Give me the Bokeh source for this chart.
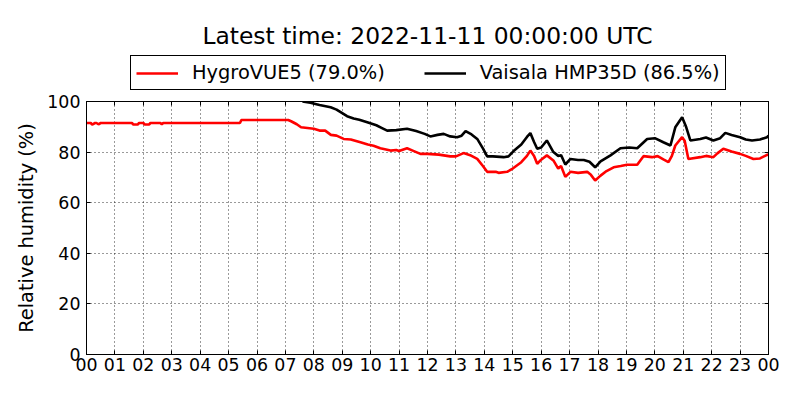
from bokeh.plotting import figure
from bokeh.layouts import column
from bokeh.models import (Range1d, FixedTicker, LinearAxis, Legend, LegendItem, Label)
from bokeh.embed import file_html
from bokeh.resources import INLINE

title_text = "Latest time: 2022-11-11 00:00:00 UTC"
red_name = "HygroVUE5 (79.0%)"
black_name = "Vaisala HMP35D (86.5%)"
y_label = "Relative humidity (%)"
x_ticks = list(range(0, 25))
x_tick_labels = ["00", "01", "02", "03", "04", "05", "06", "07", "08", "09", "10", "11",
                 "12", "13", "14", "15", "16", "17", "18", "19", "20", "21", "22", "23", "00"]
y_ticks = [0, 20, 40, 60, 80, 100]

red_h = [0.0, 0.15, 0.2, 0.3, 0.35, 0.42, 0.5, 1.6, 1.65, 1.8, 1.85, 2.0, 2.05, 2.2, 2.25,
         2.6, 2.65, 2.7, 5.4, 5.45, 7.1, 7.2, 7.4, 7.55, 8.0, 8.2, 8.4, 8.6, 8.8, 9.05, 9.3,
         9.64, 9.9, 10.1, 10.34, 10.7, 10.9, 11.0, 11.28, 11.5, 11.75, 12.0, 12.4, 12.8, 13.0,
         13.27, 13.5, 13.75, 13.95, 14.1, 14.4, 14.5, 14.8, 15.0, 15.3, 15.5, 15.62, 15.75,
         15.86, 16.0, 16.2, 16.43, 16.6, 16.7, 16.85, 17.03, 17.3, 17.62, 17.75, 17.9, 18.09,
         18.3, 18.55, 18.8, 19.02, 19.38, 19.6, 19.9, 20.1, 20.3, 20.48, 20.6, 20.72, 20.96,
         21.05, 21.18, 21.6, 21.8, 22.06, 22.2, 22.41, 22.7, 23.0, 23.2, 23.47, 23.7, 23.95, 24.0]
red_v = [91.5, 91.5, 90.9, 91.5, 91.5, 91.0, 91.5, 91.5, 90.9, 90.9, 91.5, 91.5, 90.9, 90.9, 91.5,
         91.5, 91.0, 91.5, 91.5, 92.7, 92.7, 92.2, 91.0, 89.8, 89.2, 88.5, 88.5, 86.8, 86.5, 85.2, 85.0,
         83.9, 83.0, 82.5, 81.5, 80.6, 80.8, 80.4, 81.5, 80.5, 79.3, 79.3, 79.0, 78.3, 78.3,
         79.6, 78.8, 77.3, 74.5, 72.2, 72.2, 71.8, 72.2, 73.5, 76.0, 78.5, 80.6, 78.5,
         75.4, 77.0, 78.7, 76.7, 73.5, 74.5, 70.2, 72.2, 71.8, 72.2, 71.0, 68.8, 70.7,
         72.5, 74.0, 74.5, 75.0, 75.0, 78.4, 78.0, 78.4, 77.1, 76.0, 78.5, 82.6, 85.9,
         84.5, 77.3, 78.0, 78.5, 78.0, 79.5, 81.3, 80.2, 79.3, 78.5, 77.3, 77.5, 78.9, 79.0]

black_h = [7.6, 7.88, 8.2, 8.59, 8.8, 9.17, 9.4, 9.6, 9.88, 10.2, 10.4, 10.58, 10.9, 11.28, 11.6,
           11.9, 12.1, 12.35, 12.57, 12.8, 13.04, 13.2, 13.34, 13.55, 13.75, 13.95, 14.1, 14.3,
           14.68, 14.85, 15.03, 15.3, 15.5, 15.62, 15.75, 15.86, 16.0, 16.2, 16.43, 16.6, 16.7,
           16.85, 17.03, 17.3, 17.5, 17.7, 17.9, 18.09, 18.44, 18.79, 19.1, 19.38, 19.73, 20.0,
           20.3, 20.55, 20.72, 20.96, 21.1, 21.25, 21.6, 21.8, 22.06, 22.3, 22.48, 22.7, 23.0,
           23.2, 23.42, 23.7, 23.95, 24.0]
black_v = [100.0, 99.5, 98.6, 97.7, 96.8, 94.2, 93.3, 92.8, 91.8, 90.6, 89.5, 88.5, 88.7, 89.2, 88.3,
           87.2, 86.2, 86.8, 87.2, 86.2, 85.9, 86.5, 88.3, 87.0, 85.2, 81.5, 78.3, 78.3,
           78.0, 78.3, 80.4, 83.0, 86.0, 87.5, 84.0, 81.3, 81.8, 84.6, 80.0, 78.5, 78.8,
           75.1, 77.3, 76.9, 76.9, 76.2, 74.0, 76.3, 78.7, 81.5, 81.8, 81.5, 85.2, 85.5,
           83.9, 82.6, 89.8, 93.8, 90.0, 84.6, 85.2, 85.8, 84.6, 85.5, 87.6, 86.8, 85.9,
           85.0, 84.6, 85.0, 85.9, 86.5]

FONT = "DejaVu Sans"
FS = "17.4px"
LAB_FS = "19.4px"
LW = 2.6
TOP_H = 93

# ---------- header figure: title + legend (frame aligned with main frame) ----------
head = figure(width=800, height=TOP_H, output_backend="svg", toolbar_location=None,
              x_range=Range1d(0, 1), y_range=Range1d(0, 1),
              x_axis_type=None, y_axis_type=None,
              min_border=0, min_border_left=0, min_border_right=0,
              min_border_top=0, min_border_bottom=0)
head.outline_line_color = None
head.xgrid.visible = False
head.ygrid.visible = False
head.background_fill_color = "white"
head.border_fill_color = "white"

# legend proxies: same series, but out of this header's view range
lr1 = head.line(red_h, red_v, line_color="red", line_width=LW)
lr2 = head.line(black_h, black_v, line_color="black", line_width=LW)

legend = Legend(items=[LegendItem(label=red_name, renderers=[lr1]),
                       LegendItem(label=black_name, renderers=[lr2])],
                orientation="horizontal", location=(44, 3), margin=0,
                padding=5, spacing=39, label_standoff=14, glyph_width=42,
                glyph_height=20, label_height=20,
                label_text_font=FONT, label_text_font_size=LAB_FS, label_text_color="black",
                border_line_color="black", border_line_width=1, border_line_alpha=1.0,
                background_fill_color="white", background_fill_alpha=1.0)
head.add_layout(legend, "center")

title = Label(x=341, y=TOP_H - 35, x_units="screen", y_units="screen", text=title_text,
              text_font=FONT, text_font_size="23.4px", text_align="center",
              text_baseline="middle", text_color="black")
head.add_layout(title)

# ---------- main figure ----------
p = figure(width=800, height=400 - TOP_H, output_backend="svg", toolbar_location=None,
           x_range=Range1d(0, 24), y_range=Range1d(0, 100),
           min_border_left=86, min_border_right=32, min_border_top=101 - TOP_H,
           min_border_bottom=46)
p.outline_line_color = "black"
p.outline_line_width = 1
p.background_fill_color = "white"
p.border_fill_color = "white"

p.line(red_h, red_v, line_color="red", line_width=LW)
p.line(black_h, black_v, line_color="black", line_width=LW)

def style_axis(ax, labels=True):
    ax.major_tick_in = 4
    ax.major_tick_out = 0
    ax.minor_tick_in = 0
    ax.minor_tick_out = 0
    ax.axis_line_color = "black"
    ax.major_tick_line_color = "black"
    ax.major_label_text_font = FONT
    ax.major_label_text_font_size = FS
    ax.major_label_text_color = "black" if labels else None
    ax.axis_label_text_font = FONT
    ax.axis_label_text_color = "black"

xa = p.xaxis[0]
xa.ticker = FixedTicker(ticks=x_ticks)
xa.major_label_overrides = {t: l for t, l in zip(x_ticks, x_tick_labels)}
xa.major_label_standoff = 3
style_axis(xa)

ya = p.yaxis[0]
ya.ticker = FixedTicker(ticks=y_ticks)
ya.major_label_standoff = 6
ya.axis_label = y_label
ya.axis_label_text_font_size = LAB_FS
ya.axis_label_text_font_style = "normal"
ya.axis_label_standoff = 6
style_axis(ya)

top = LinearAxis(ticker=FixedTicker(ticks=x_ticks), major_label_text_font_size="0px")
style_axis(top, labels=False)
top.major_label_standoff = 0
p.add_layout(top, "above")
right = LinearAxis(ticker=FixedTicker(ticks=y_ticks), major_label_text_font_size="0px")
style_axis(right, labels=False)
right.major_label_standoff = 0
p.add_layout(right, "right")

for g in (p.xgrid[0], p.ygrid[0]):
    g.grid_line_color = "black"
    g.grid_line_dash = "1 3"
    g.grid_line_width = 0.8
p.xgrid[0].ticker = FixedTicker(ticks=x_ticks)
p.ygrid[0].ticker = FixedTicker(ticks=y_ticks)

layout = column(head, p, spacing=0)
open("out.html", "w").write(file_html(layout, INLINE))
